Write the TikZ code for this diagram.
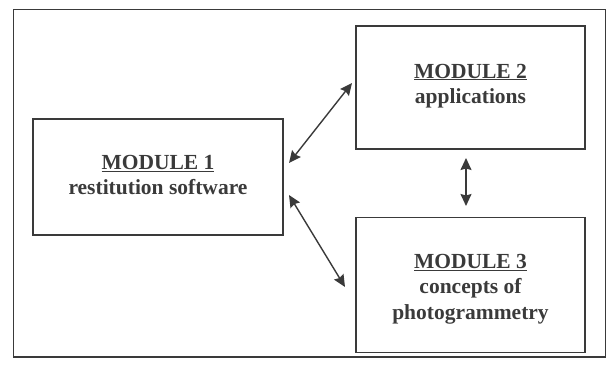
\documentclass[tikz,border=0pt]{standalone}
\usepackage{fontspec}
\setmainfont{Liberation Serif}
\usetikzlibrary{arrows.meta}
\definecolor{ink}{HTML}{3A3A3A}
\tikzset{
  modbox/.style={draw=ink, line width=1.4pt, inner sep=0pt},
  modtext/.style={text=ink, font=\fontsize{21.5}{25.5}\selectfont\bfseries, align=center},
  link/.style={draw=ink, line width=1.4pt, {Stealth[length=12pt,width=11pt,inset=1.5pt]}-{Stealth[length=12pt,width=11pt,inset=1.5pt]}},
}
\begin{document}
\begin{tikzpicture}[x=1pt,y=-1pt]
\useasboundingbox (0,0) rectangle (607,367);
\draw[draw=ink, line width=1.1pt] (13.5,9.5) rectangle (605.5,357);
\node[modbox, minimum width=250pt, minimum height=116pt] (m1) at (158,177) {};
\node[modbox, minimum width=229pt, minimum height=123pt] (m2) at (470.5,87.5) {};
\node[modbox, minimum width=229pt, minimum height=135pt] (m3) at (470.5,285) {};
\node[modtext] (t1) at (158,175) {\underline{MODULE 1}\\restitution software};
\node[modtext] (t2) at (470.5,86) {\underline{MODULE 2}\\applications};
\node[modtext] (t3) at (470.5,289) {\underline{MODULE 3}\\concepts of\\photogrammetry};
\coordinate (a1s) at (289,163);
\coordinate (a1e) at (352,83);
\coordinate (a2s) at (289,195);
\coordinate (a2e) at (345,287);
\coordinate (a3s) at (466,158);
\coordinate (a3e) at (466,206);
\draw[link] (a1s) -- (a1e);
\draw[link] (a2s) -- (a2e);
\draw[link] (a3s) -- (a3e);
\end{tikzpicture}
\end{document}
